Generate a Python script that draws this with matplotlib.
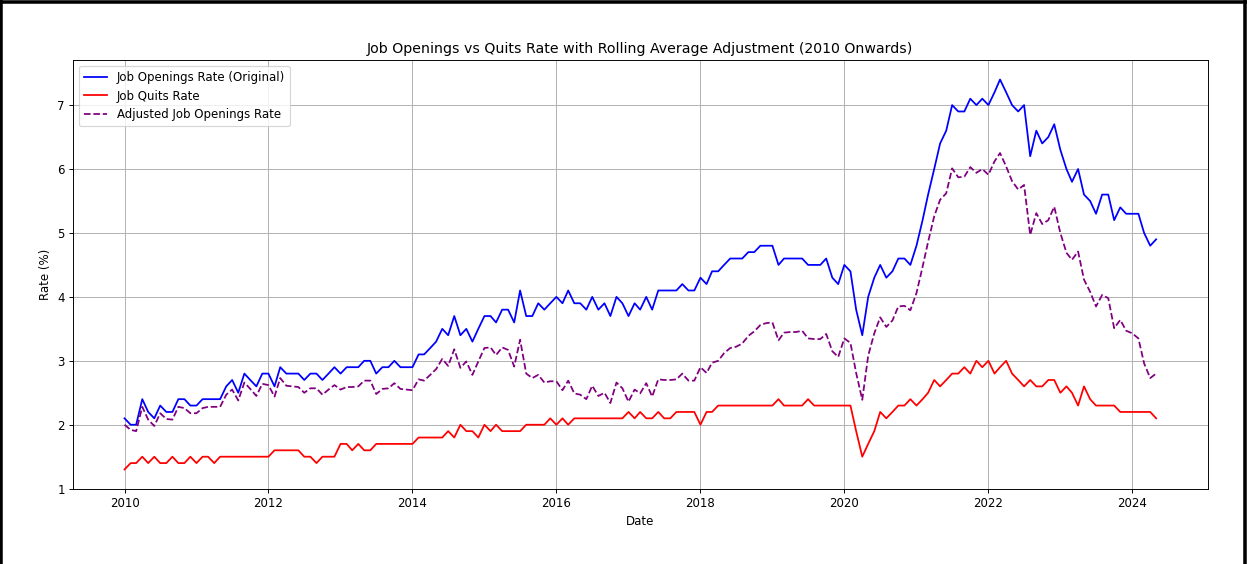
import numpy as np
import pandas as pd
import matplotlib
matplotlib.use('Agg')
import matplotlib.pyplot as plt
from matplotlib.lines import Line2D

# Monatswerte ab Jan 2010 bis Mai 2024
dates = pd.date_range('2010-01-01', '2024-05-01', freq='MS')

openings = [
    2.1, 2.0, 2.0, 2.4, 2.2, 2.1, 2.3, 2.2, 2.2, 2.4, 2.4, 2.3,  # 2010
    2.3, 2.4, 2.4, 2.4, 2.4, 2.6, 2.7, 2.5, 2.8, 2.7, 2.6, 2.8,  # 2011
    2.8, 2.6, 2.9, 2.8, 2.8, 2.8, 2.7, 2.8, 2.8, 2.7, 2.8, 2.9,  # 2012
    2.8, 2.9, 2.9, 2.9, 3.0, 3.0, 2.8, 2.9, 2.9, 3.0, 2.9, 2.9,  # 2013
    2.9, 3.1, 3.1, 3.2, 3.3, 3.5, 3.4, 3.7, 3.4, 3.5, 3.3, 3.5,  # 2014
    3.7, 3.7, 3.6, 3.8, 3.8, 3.6, 4.1, 3.7, 3.7, 3.9, 3.8, 3.9,  # 2015
    4.0, 3.9, 4.1, 3.9, 3.9, 3.8, 4.0, 3.8, 3.9, 3.7, 4.0, 3.9,  # 2016
    3.7, 3.9, 3.8, 4.0, 3.8, 4.1, 4.1, 4.1, 4.1, 4.2, 4.1, 4.1,  # 2017
    4.3, 4.2, 4.4, 4.4, 4.5, 4.6, 4.6, 4.6, 4.7, 4.7, 4.8, 4.8,  # 2018
    4.8, 4.5, 4.6, 4.6, 4.6, 4.6, 4.5, 4.5, 4.5, 4.6, 4.3, 4.2,  # 2019
    4.5, 4.4, 3.8, 3.4, 4.0, 4.3, 4.5, 4.3, 4.4, 4.6, 4.6, 4.5,  # 2020
    4.8, 5.2, 5.6, 6.0, 6.4, 6.6, 7.0, 6.9, 6.9, 7.1, 7.0, 7.1,  # 2021
    7.0, 7.2, 7.4, 7.2, 7.0, 6.9, 7.0, 6.2, 6.6, 6.4, 6.5, 6.7,  # 2022
    6.3, 6.0, 5.8, 6.0, 5.6, 5.5, 5.3, 5.6, 5.6, 5.2, 5.4, 5.3,  # 2023
    5.3, 5.3, 5.0, 4.8, 4.9,                                     # 2024
]

quits = [
    1.3, 1.4, 1.4, 1.5, 1.4, 1.5, 1.4, 1.4, 1.5, 1.4, 1.4, 1.5,
    1.4, 1.5, 1.5, 1.4, 1.5, 1.5, 1.5, 1.5, 1.5, 1.5, 1.5, 1.5,
    1.5, 1.6, 1.6, 1.6, 1.6, 1.6, 1.5, 1.5, 1.4, 1.5, 1.5, 1.5,
    1.7, 1.7, 1.6, 1.7, 1.6, 1.6, 1.7, 1.7, 1.7, 1.7, 1.7, 1.7,
    1.7, 1.8, 1.8, 1.8, 1.8, 1.8, 1.9, 1.8, 2.0, 1.9, 1.9, 1.8,
    2.0, 1.9, 2.0, 1.9, 1.9, 1.9, 1.9, 2.0, 2.0, 2.0, 2.0, 2.1,
    2.0, 2.1, 2.0, 2.1, 2.1, 2.1, 2.1, 2.1, 2.1, 2.1, 2.1, 2.1,
    2.2, 2.1, 2.2, 2.1, 2.1, 2.2, 2.1, 2.1, 2.2, 2.2, 2.2, 2.2,
    2.0, 2.2, 2.2, 2.3, 2.3, 2.3, 2.3, 2.3, 2.3, 2.3, 2.3, 2.3,
    2.3, 2.4, 2.3, 2.3, 2.3, 2.3, 2.4, 2.3, 2.3, 2.3, 2.3, 2.3,
    2.3, 2.3, 1.9, 1.5, 1.7, 1.9, 2.2, 2.1, 2.2, 2.3, 2.3, 2.4,
    2.3, 2.4, 2.5, 2.7, 2.6, 2.7, 2.8, 2.8, 2.9, 2.8, 3.0, 2.9,
    3.0, 2.8, 2.9, 3.0, 2.8, 2.7, 2.6, 2.7, 2.6, 2.6, 2.7, 2.7,
    2.5, 2.6, 2.5, 2.3, 2.6, 2.4, 2.3, 2.3, 2.3, 2.3, 2.2, 2.2,
    2.2, 2.2, 2.2, 2.2, 2.1,
]

adjusted = [
    2.00, 1.92, 1.90, 2.28, 2.08, 1.98, 2.18, 2.09, 2.08, 2.28, 2.26, 2.18,
    2.18, 2.26, 2.28, 2.28, 2.28, 2.47, 2.55, 2.38, 2.66, 2.56, 2.45, 2.64,
    2.62, 2.44, 2.73, 2.61, 2.60, 2.59, 2.50, 2.57, 2.57, 2.47, 2.55, 2.62,
    2.55, 2.59, 2.59, 2.60, 2.69, 2.69, 2.48, 2.56, 2.57, 2.65, 2.56, 2.55,
    2.54, 2.71, 2.69, 2.78, 2.87, 3.03, 2.92, 3.18, 2.89, 2.99, 2.78, 2.99,
    3.20, 3.21, 3.09, 3.21, 3.17, 2.91, 3.33, 2.80, 2.73, 2.78, 2.66, 2.68,
    2.68, 2.54, 2.69, 2.49, 2.47, 2.40, 2.61, 2.45, 2.50, 2.34, 2.66, 2.57,
    2.36, 2.55, 2.49, 2.65, 2.44, 2.71, 2.70, 2.70, 2.71, 2.80, 2.69, 2.69,
    2.90, 2.81, 2.97, 3.00, 3.12, 3.20, 3.22, 3.27, 3.39, 3.46, 3.56, 3.59,
    3.60, 3.32, 3.44, 3.45, 3.45, 3.47, 3.35, 3.34, 3.34, 3.42, 3.15, 3.06,
    3.35, 3.28, 2.81, 2.39, 3.08, 3.43, 3.68, 3.53, 3.63, 3.85, 3.86, 3.79,
    4.06, 4.47, 4.86, 5.26, 5.52, 5.62, 6.01, 5.87, 5.88, 6.03, 5.94, 6.00,
    5.91, 6.12, 6.25, 6.04, 5.81, 5.68, 5.75, 4.97, 5.31, 5.14, 5.20, 5.41,
    5.00, 4.69, 4.58, 4.71, 4.27, 4.08, 3.85, 4.03, 3.98, 3.51, 3.64, 3.47,
    3.43, 3.35, 2.96, 2.73, 2.80,
]

# dpi 85 -> Schrift wirkt etwas kleiner, wie im Screenshot
fig = plt.figure(figsize=(1247 / 85, 564 / 85), dpi=85)
ax = fig.add_axes([0.0585, 0.133, 0.910, 0.7606])

ax.plot(dates, openings, color='blue', label='Job Openings Rate (Original)')
ax.plot(dates, quits, color='red', label='Job Quits Rate')
ax.plot(dates, adjusted, color='purple', linestyle='--', label='Adjusted Job Openings Rate')

ax.set_title('Job Openings vs Quits Rate with Rolling Average Adjustment (2010 Onwards)')
ax.set_xlabel('Date')
ax.set_ylabel('Rate (%)')
ax.legend(loc='upper left')
ax.grid(True)

# schwarzer Rahmen (links, oben, rechts)
for xs, ys in [([0.001, 0.001], [0, 1]), ([0, 1], [0.997, 0.997]), ([0.998, 0.998], [0, 1])]:
    fig.add_artist(Line2D(xs, ys, transform=fig.transFigure, color='black', linewidth=3))

fig.savefig('out.png', dpi=85)
